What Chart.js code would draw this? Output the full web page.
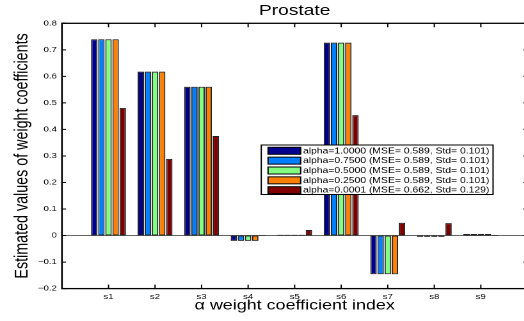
<!DOCTYPE html>
<html><head><meta charset="utf-8">
<script src="https://cdn.jsdelivr.net/npm/chart.js@4/dist/chart.umd.min.js"></script>
<style>
html,body{margin:0;padding:0;background:#fff;overflow:hidden;width:524px;height:321px;}
#wrap{position:absolute;left:0;top:0;width:416px;height:321px;transform:scaleX(1.28);transform-origin:0 0;}
canvas{display:block;}
</style></head><body>
<div id="wrap"><canvas id="c" width="416" height="321" style="width:416px;height:321px"></canvas></div>
<script>
// ---- data ----
const categories = ['s1','s2','s3','s4','s5','s6','s7','s8','s9'];
const seriesLabels = [
  'alpha=1.0000 (MSE= 0.589, Std= 0.101)',
  'alpha=0.7500 (MSE= 0.589, Std= 0.101)',
  'alpha=0.5000 (MSE= 0.589, Std= 0.101)',
  'alpha=0.2500 (MSE= 0.589, Std= 0.101)',
  'alpha=0.0001 (MSE= 0.662, Std= 0.129)'
];
const alpha1000 = [0.740, 0.618, 0.561, -0.020, 0.003, 0.727, -0.146, -0.005, 0.006];
const alpha0750 = [0.740, 0.618, 0.561, -0.020, 0.003, 0.727, -0.146, -0.005, 0.006];
const alpha0500 = [0.740, 0.618, 0.561, -0.020, 0.003, 0.727, -0.146, -0.005, 0.006];
const alpha0250 = [0.740, 0.618, 0.561, -0.020, 0.003, 0.727, -0.146, -0.005, 0.006];
const alpha0001 = [0.481, 0.289, 0.375, 0.002, 0.021, 0.454, 0.048, 0.047, 0.002];
const yTicks = [-0.2, -0.1, 0, 0.1, 0.2, 0.3, 0.4, 0.5, 0.6, 0.7, 0.8];
const colors = ['#00008f', '#0080ff', '#80ff80', '#ff8000', '#800000'];

const series = [alpha1000, alpha0750, alpha0500, alpha0250, alpha0001];
const xLabels = [''].concat(categories, ['']);

Chart.defaults.font.family = "'Liberation Sans', Arial, sans-serif";
Chart.defaults.color = '#000';

const fmt = v => v === 0 ? '0' : (v < 0 ? '\u2212' : '') + Math.abs(v).toFixed(1);

const framePlugin = {
  id: 'frame',
  beforeDatasetsDraw(chart) {
    const {ctx, chartArea: a, scales: {y}} = chart;
    const y0 = y.getPixelForValue(0);
    ctx.save();
    ctx.strokeStyle = '#666';
    ctx.lineWidth = 1;
    ctx.beginPath(); ctx.moveTo(a.left, y0); ctx.lineTo(a.right, y0); ctx.stroke();
    ctx.restore();
  },
  afterDraw(chart) {
    const {ctx, chartArea: a, scales: {x, y}} = chart;
    ctx.save();
    ctx.strokeStyle = '#000';
    ctx.lineWidth = 1.3;
    ctx.strokeRect(a.left, a.top, a.right - a.left, a.bottom - a.top);
    ctx.lineWidth = 1;
    ctx.beginPath();
    for (let i = 1; i <= categories.length; i++) {
      const px = x.getPixelForValue(i);
      ctx.moveTo(px, a.top); ctx.lineTo(px, a.top + 4);
      ctx.moveTo(px, a.bottom); ctx.lineTo(px, a.bottom - 4);
    }
    yTicks.forEach(v => {
      const py = y.getPixelForValue(v);
      ctx.moveTo(a.left, py); ctx.lineTo(a.left + 3.2, py);
      ctx.moveTo(a.right, py); ctx.lineTo(a.right - 3.2, py);
    });
    ctx.stroke();

    // legend box
    const bx = a.left + 155.7, by = a.top + 121.7, bw = 181.1, bh = 49.5;
    ctx.fillStyle = '#fff';
    ctx.fillRect(bx, by, bw, bh);
    ctx.lineWidth = 1;
    ctx.strokeStyle = '#000';
    ctx.strokeRect(bx, by, bw, bh);
    ctx.font = "8.1px 'Liberation Sans', Arial, sans-serif";
    ctx.textBaseline = 'middle';
    ctx.textAlign = 'left';
    chart.data.datasets.forEach((ds, i) => {
      const sy = by + 2.3 + i * 9.85;
      ctx.fillStyle = ds.backgroundColor;
      ctx.fillRect(bx + 5.3, sy, 25.5, 7);
      ctx.strokeStyle = '#000';
      ctx.strokeRect(bx + 5.3, sy, 25.5, 7);
      ctx.fillStyle = '#000';
      ctx.fillText(ds.label, bx + 32.6, sy + 3.8);
    });
    ctx.restore();
  }
};

new Chart(document.getElementById('c'), {
  type: 'bar',
  data: {
    labels: xLabels,
    datasets: series.map((s, i) => ({
      label: seriesLabels[i],
      data: [null].concat(s, [null]),
      backgroundColor: colors[i],
      borderColor: '#222',
      borderWidth: 1,
      borderSkipped: false,
      categoryPercentage: 0.765,
      barPercentage: 0.9
    }))
  },
  options: {
    responsive: false,
    animation: false,
    devicePixelRatio: 2,
    layout: {padding: {left: 0, right: 3, top: 0, bottom: 0}},
    plugins: {
      legend: {display: false},
      tooltip: {enabled: false},
      title: {
        display: true, text: 'Prostate', fullSize: false,
        font: {size: 15, weight: 'normal'}, color: '#000',
        padding: {top: 2, bottom: 3.3}
      }
    },
    scales: {
      x: {
        type: 'category', offset: false,
        grid: {display: false, drawTicks: false},
        border: {display: false},
        ticks: {font: {size: 7.5}, color: '#000', padding: 4, autoSkip: false, maxRotation: 0},
        title: {display: true, text: '\u03b1 weight coefficient index', font: {size: 14}, color: '#000', padding: {top: 0, bottom: 7}},
        afterFit: s => { s.height = 32.4; }
      },
      y: {
        min: -0.2, max: 0.8,
        grid: {display: false, drawTicks: false},
        border: {display: false},
        ticks: {font: {size: 7.5}, color: '#000', padding: 4, callback: v => fmt(v)},
        afterBuildTicks: s => { s.ticks = yTicks.map(v => ({value: v})); },
        title: {display: true, text: 'Estimated values of weight coefficients', font: {size: 14.3}, color: '#000', padding: {top: 9, bottom: 0}},
        afterFit: s => { s.width = 48.4; }
      }
    }
  },
  plugins: [framePlugin]
});
</script>
</body></html>
